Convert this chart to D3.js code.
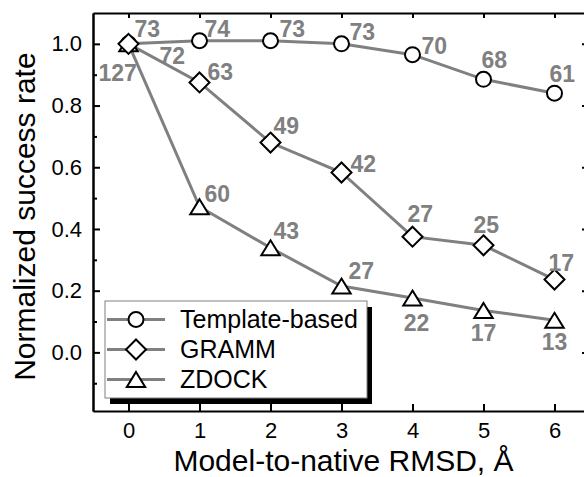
<!DOCTYPE html>
<html>
<head>
<meta charset="utf-8">
<script src="https://cdn.jsdelivr.net/npm/d3@7"></script>
<style>
  body { margin: 0; background: #fff; }
  svg { display: block; font-family: "Liberation Sans", Arial, sans-serif; }
  .axis path, .axis line { stroke: #000; stroke-width: 2; }
  .axis text { font-size: 22px; fill: #000; font-family: "Liberation Sans", Arial, sans-serif; }
  .g-line { fill: none; stroke: #808080; stroke-width: 3; }
  .g-marker { fill: #fff; stroke: #000; stroke-width: 2; }
  .g-label { font-size: 23px; font-weight: bold; fill: #808080; }
</style>
</head>
<body>
<div class="g-chart"></div>
<script>
//Local data
var rmsd = [0, 1, 2, 3, 4, 5, 6];
var seriesNames = ["Template-based", "GRAMM", "ZDOCK"];
var templateRate = [1.0, 1.01, 1.01, 1.0, 0.965, 0.885, 0.84];
var grammRate = [1.0, 0.875, 0.68, 0.583, 0.375, 0.347, 0.236];
var zdockRate = [1.0, 0.472, 0.339, 0.215, 0.176, 0.136, 0.104];
var templateCount = [73, 74, 73, 73, 70, 68, 61];
var grammCount = [72, 63, 49, 42, 27, 25, 17];
var zdockCount = [127, 60, 43, 27, 22, 17, 13];
var yTicks = [0, 0.2, 0.4, 0.6, 0.8, 1.0];
var yMinorTicks = [-0.1, 0.1, 0.3, 0.5, 0.7, 0.9];

//Label placement around each point: [dx, dy, anchor]
var templateLabelPos = [[6,-7,"start"],[5,-4,"start"],[9,-4,"start"],[8,-4,"start"],[9,-1,"start"],[-2,-11,"start"],[-5,-11,"start"]];
var grammLabelPos = [[31,20,"start"],[8,-2,"start"],[3,-9,"start"],[9,-1,"start"],[-5,-15,"start"],[-10,-12,"start"],[-6,-9,"start"]];
var zdockLabelPos = [[-30,37,"start"],[5,-5,"start"],[3,-9,"start"],[7,-7,"start"],[4,33,"middle"],[0,31,"middle"],[0,30,"middle"]];

//Margin conventions
var svgWidth = 584, svgHeight = 477;
var margin = {top: 13, right: -6, bottom: 66, left: 93};
var width = svgWidth - margin.left - margin.right,
    height = svgHeight - margin.top - margin.bottom;

var svg = d3.select(".g-chart").append("svg")
  .attr("width", svgWidth)
  .attr("height", svgHeight);

var g = svg.append("g")
  .attr("transform", "translate(" + margin.left + "," + margin.top + ")");

//Scales
var xScale = d3.scaleLinear().domain([-0.5, 6.5]).range([0, width]);
var yScale = d3.scaleLinear().domain([-0.19, 1.1]).range([height, 0]);

//Axes, ticks pointing inward
g.append("g")
  .attr("class", "x axis")
  .attr("transform", "translate(0," + height + ")")
  .call(d3.axisBottom(xScale).tickValues(rmsd).tickSize(-7).tickSizeOuter(0).tickPadding(11)
    .tickFormat(d3.format("d")));

g.append("g")
  .attr("class", "x axis")
  .call(d3.axisTop(xScale).tickValues(rmsd).tickSize(-5).tickSizeOuter(0).tickFormat(""));

g.append("g")
  .attr("class", "y axis")
  .call(d3.axisLeft(yScale).tickValues(yTicks).tickSize(-7).tickSizeOuter(0).tickPadding(11)
    .tickFormat(d3.format(".1f")));

g.append("g")
  .attr("class", "y axis")
  .call(d3.axisLeft(yScale).tickValues(yMinorTicks).tickSize(-4).tickSizeOuter(0).tickFormat(""));

g.append("g")
  .attr("class", "y axis")
  .attr("transform", "translate(" + width + ",0)")
  .call(d3.axisRight(yScale).tickValues(yTicks).tickSize(-8).tickSizeOuter(0).tickFormat(""));

//Axis titles
svg.append("text")
  .attr("x", margin.left + xScale(3) + 2)
  .attr("y", 471)
  .attr("text-anchor", "middle")
  .style("font-size", "30px")
  .text("Model-to-native RMSD, \u00C5");

svg.append("text")
  .attr("transform", "translate(35," + (margin.top + yScale(0.44)) + ") rotate(-90)")
  .attr("text-anchor", "middle")
  .style("font-size", "30px")
  .text("Normalized success rate");

//Marker shapes
function markerPath(shape) {
  if (shape === "circle") {
    return d3.symbol().type(d3.symbolCircle).size(Math.PI * 7.5 * 7.5)();
  } else if (shape === "diamond") {
    return "M0,-10L10,0L0,10L-10,0Z";
  }
  return "M0,-7.5L9.2,7.5L-9.2,7.5Z";
}

var series = [
  {name: seriesNames[0], values: templateRate, counts: templateCount, pos: templateLabelPos, shape: "circle"},
  {name: seriesNames[2], values: zdockRate, counts: zdockCount, pos: zdockLabelPos, shape: "triangle"},
  {name: seriesNames[1], values: grammRate, counts: grammCount, pos: grammLabelPos, shape: "diamond"}
];

var line = d3.line()
  .x(function(d, i) { return xScale(rmsd[i]); })
  .y(function(d) { return yScale(d); });

//Lines first
series.forEach(function(s) {
  g.append("path")
    .attr("class", "g-line")
    .attr("d", line(s.values));
});

//Markers
series.forEach(function(s) {
  g.selectAll(null)
    .data(s.values)
    .enter()
    .append("path")
    .attr("class", "g-marker")
    .attr("d", markerPath(s.shape))
    .attr("transform", function(d, i) {
      return "translate(" + xScale(rmsd[i]) + "," + yScale(d) + ")";
    });
});

//Count labels
series.forEach(function(s) {
  g.selectAll(null)
    .data(s.values)
    .enter()
    .append("text")
    .attr("class", "g-label")
    .attr("x", function(d, i) { return xScale(rmsd[i]) + s.pos[i][0]; })
    .attr("y", function(d, i) { return yScale(d) + s.pos[i][1]; })
    .attr("text-anchor", function(d, i) { return s.pos[i][2]; })
    .text(function(d, i) { return s.counts[i]; });
});

//Legend with drop shadow
var legend = svg.append("g")
  .attr("transform", "translate(105,301)");

legend.append("rect")
  .attr("x", 5).attr("y", 6)
  .attr("width", 262).attr("height", 97)
  .attr("fill", "#000");

legend.append("rect")
  .attr("width", 262).attr("height", 97)
  .attr("fill", "#fff")
  .attr("stroke", "#808080")
  .attr("stroke-width", 1);

var legendOrder = [series[0], series[2], series[1]];
legendOrder.forEach(function(s, i) {
  var cy = 18.5 + i * 30;
  legend.append("line")
    .attr("class", "g-line")
    .attr("x1", 2).attr("x2", 60)
    .attr("y1", cy).attr("y2", cy);
  legend.append("path")
    .attr("class", "g-marker")
    .attr("d", markerPath(s.shape))
    .attr("transform", "translate(31," + cy + ")");
  legend.append("text")
    .attr("x", 75)
    .attr("y", cy + 8.5)
    .style("font-size", "25px")
    .text(s.name);
});
</script>
</body>
</html>
